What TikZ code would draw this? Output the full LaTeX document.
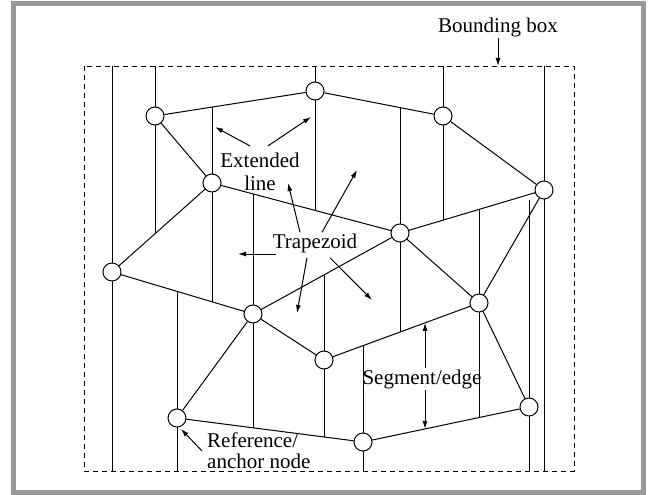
\documentclass[tikz,border=0pt]{standalone}
\usepackage{fontspec}
\setmainfont{Liberation Serif}
\usetikzlibrary{arrows.meta,calc,backgrounds}

\tikzset{
  vertex/.style={circle,draw,fill=white,line width=1pt,minimum size=18pt,inner sep=0pt},
  lbl/.style={font=\fontsize{21}{22}\selectfont,inner sep=1pt},
  arr/.style={-{Latex[length=8pt,width=5pt]},line width=1pt},
}

\begin{document}
\begin{tikzpicture}[x=1pt,y=-1pt,line width=1pt]
\useasboundingbox (0,0) rectangle (651,495);

% Rahmen
\draw[color=black!40,line width=5pt] (13.5,3.5) rectangle (643,492.5);

% Bounding box
\draw[dash pattern=on 5pt off 4pt,line width=0.9pt] (84,66) rectangle (574,471);
\coordinate (bbtl) at (84,66);
\coordinate (bbbr) at (574,471);

% Knoten
\node[vertex] (A) at (155,116) {};
\node[vertex] (B) at (315,91) {};
\node[vertex] (C) at (212,183) {};
\node[vertex] (D) at (112,272) {};
\node[vertex] (E) at (400,233) {};
\node[vertex] (F) at (443,116) {};
\node[vertex] (G) at (544,190) {};
\node[vertex] (H) at (479,303) {};
\node[vertex] (I) at (253,314) {};
\node[vertex] (J) at (177,418) {};
\node[vertex] (K) at (324,360) {};
\node[vertex] (L) at (363,442) {};
\node[vertex] (M) at (529,407) {};

% Kanten
\draw (A) -- (B);
\draw (B) -- (F);
\draw (F) -- (G);
\draw (A) -- (C);
\draw (C) -- (D);
\draw (C) -- (E);
\draw (E) -- (G);
\draw (G) -- (H);
\draw (E) -- (H);
\draw (D) -- (I);
\draw (I) -- (E);
\draw (I) -- (K);
\draw (K) -- (H);
\draw (I) -- (J);
\draw (J) -- (L);
\draw (L) -- (M);
\draw (H) -- (M);

% Verlaengerte Linien
\begin{pgfonlayer}{background}
\draw (D |- bbtl) -- (D |- bbbr);
\draw (A |- bbtl) -- (A |- 0,233.7);
\draw (C |- 0,107.1) -- (C |- 0,301.8);
\draw (I |- 0,193.9) -- (I |- 0,427.8);
\draw (B |- bbtl) -- (B |- 0,210.4);
\draw (J |- 0,291.4) -- (J |- bbbr);
\draw (K |- 0,274.9) -- (K |- 0,437);
\draw (L |- 0,345.7) -- (L |- bbbr);
\draw (E |- 0,107.6) -- (E |- 0,332);
\draw (F |- bbtl) -- (F |- 0,220.2);
\draw (H |- 0,209.4) -- (H |- 0,417.5);
\draw (M |- G.south) -- (M |- bbbr);
\draw (G |- bbtl) -- (G |- bbbr);
\end{pgfonlayer}

% Beschriftung Bounding box
\node[lbl] (bbtext) at (498,27) {Bounding box};
\coordinate (bbtip) at (498,66);
\draw[arr] (bbtext) -- (bbtip);

% Extended line
\node[lbl,align=center,font=\fontsize{21}{23}\selectfont] (ext) at (260,172) {Extended\\line};
\coordinate (ext1) at (215,127);
\coordinate (ext2) at (311,117);
\draw[arr] ([shift={(-10,-6)}]ext.north) -- (ext1);
\draw[arr] ([shift={(8,-6)}]ext.north) -- (ext2);

% Trapezoid
\node[lbl] (trap) at (315,243) {Trapezoid};
\coordinate (trap1) at (288,183);
\coordinate (trap2) at (357,170);
\coordinate (trap3) at (238,254);
\coordinate (trap4) at (297,313);
\coordinate (trap5) at (372,300);
\draw[arr] ([xshift=-15pt]trap.north) -- (trap1);
\draw[arr] ([xshift=7pt]trap.north) -- (trap2);
\draw[arr] ([shift={(4,11)}]trap.west) -- (trap3);
\draw[arr] ([shift={(-8,4)}]trap.south) -- (trap4);
\draw[arr] ([shift={(15,4)}]trap.south) -- (trap5);

% Segment/edge
\node[lbl] (seg) at (422,379) {Segment/edge};
\coordinate (segtop) at ($(K)!0.652!(H)$);
\coordinate (segbot) at ($(L)!0.3735!(M)$);
\draw[arr] (seg.north -| segtop) -- (segtop);
\draw[arr] (seg.south -| segbot) -- (segbot);

% Reference/anchor node
\node[lbl,align=left,anchor=west,font=\fontsize{21}{21}\selectfont] (ref) at (206,451) {Reference/\\anchor node};
\coordinate (reftip) at (181,429);
\draw[arr] ([xshift=-4pt]ref.west) -- (reftip);

\end{tikzpicture}
\end{document}
